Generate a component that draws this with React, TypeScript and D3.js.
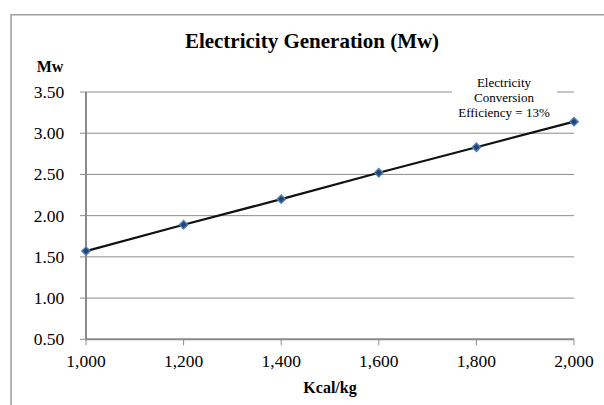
import React from "react";
import * as d3 from "d3";

const kcalPerKg = [1000, 1200, 1400, 1600, 1800, 2000];
const generationMw = [1.57, 1.89, 2.2, 2.52, 2.83, 3.14];
const yTicks = [0.5, 1.0, 1.5, 2.0, 2.5, 3.0, 3.5];
const xTicks = [1000, 1200, 1400, 1600, 1800, 2000];
const titleText = "Electricity Generation (Mw)";
const yAxisTitle = "Mw";
const xAxisTitle = "Kcal/kg";
const annotationLines = ["Electricity", "Conversion", "Efficiency = 13%"];

const W = 604;
const H = 405;
const FONT = "'Liberation Serif', 'Times New Roman', serif";

export default function App() {
  const x = d3.scaleLinear().domain([1000, 2000]).range([86, 574]);
  const y = d3.scaleLinear().domain([0.5, 3.5]).range([339.3, 92]);
  const fx = d3.format(",");
  const fy = d3.format(".2f");
  const pts = kcalPerKg.map((k, i) => [x(k), y(generationMw[i])] as [number, number]);
  const line = d3.line()(pts) || "";
  const gridColor = "#8c8c8c";
  const axisColor = "#8a8a8a";

  return (
    <svg
      width={W}
      height={H}
      style={{ position: "absolute", left: 0, top: 0, background: "#fff" }}
      fontFamily={FONT}
    >
      <rect x={0} y={0} width={W} height={H} fill="#fff" />
      {/* outer frame */}
      <path d={`M11,${H + 5} L11,14.7 L${W + 5},14.7`} fill="none" stroke="#a0a0a0" strokeWidth={1.5} />

      {/* title */}
      <text x={312} y={47.5} textAnchor="middle" fontSize={21} fontWeight="bold" fill="#000">
        {titleText}
      </text>
      <text x={50} y={71.7} textAnchor="middle" fontSize={16} fontWeight="bold" fill="#000">
        {yAxisTitle}
      </text>

      {/* gridlines */}
      {yTicks.map((t) =>
        t === 0.5 ? null : (
          <line key={"g" + t} x1={x(1000)} x2={x(2000)} y1={y(t)} y2={y(t)} stroke={gridColor} strokeWidth={1} />
        )
      )}

      {/* y ticks and labels */}
      {yTicks.map((t) => (
        <g key={"yt" + t}>
          <line x1={x(1000) - 6} x2={x(1000)} y1={y(t)} y2={y(t)} stroke={axisColor} strokeWidth={1} />
          <text x={64.3} y={y(t)} dy="0.34em" textAnchor="end" fontSize={17.5} fill="#000">
            {fy(t)}
          </text>
        </g>
      ))}

      {/* x ticks and labels */}
      {xTicks.map((t) => (
        <g key={"xt" + t}>
          <line x1={x(t)} x2={x(t)} y1={y(0.5)} y2={y(0.5) + 6} stroke={axisColor} strokeWidth={1} />
          <text x={x(t)} y={366.7} textAnchor="middle" fontSize={17.5} fill="#000">
            {fx(t)}
          </text>
        </g>
      ))}

      {/* axes */}
      <line x1={x(1000)} x2={x(1000)} y1={y(3.5)} y2={y(0.5)} stroke={axisColor} strokeWidth={2} />
      <line x1={x(1000)} x2={x(2000)} y1={y(0.5)} y2={y(0.5)} stroke={axisColor} strokeWidth={2} />

      <text x={330} y={393} textAnchor="middle" fontSize={16} fontWeight="bold" fill="#000">
        {xAxisTitle}
      </text>

      {/* annotation */}
      <rect x={452} y={74} width={105} height={46} fill="#fff" />
      {annotationLines.map((s, i) => (
        <text key={s} x={504} y={86.7 + i * 15.3} textAnchor="middle" fontSize={13} fill="#000">
          {s}
        </text>
      ))}

      {/* series */}
      <path d={line} fill="none" stroke="#111" strokeWidth={2.2} />
      {pts.map(([px, py], i) => (
        <path
          key={"m" + i}
          d={`M${px},${py - 4.2} L${px + 4.2},${py} L${px},${py + 4.2} L${px - 4.2},${py} Z`}
          fill="#26446e"
          stroke="#4f81bd"
          strokeWidth={1.4}
        />
      ))}
    </svg>
  );
}
